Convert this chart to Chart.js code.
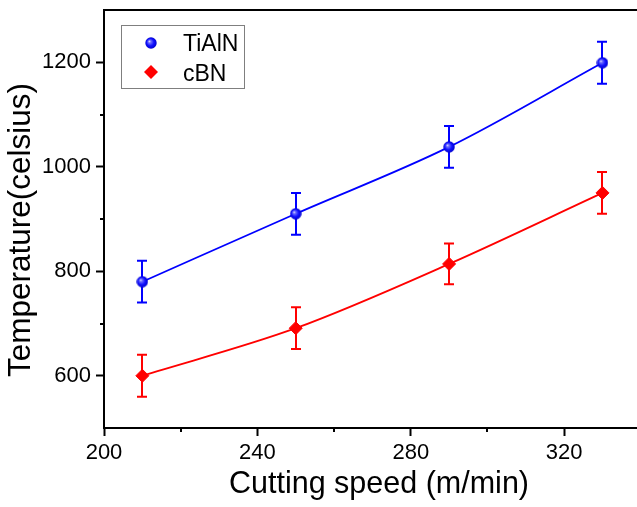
<!DOCTYPE html>
<html>
<head>
<meta charset="utf-8">
<script src="https://cdn.jsdelivr.net/npm/chart.js@4/dist/chart.umd.min.js"></script>
<style>
html,body{margin:0;padding:0;background:#fff;}
canvas{display:block;}
</style>
</head>
<body>
<canvas id="c" width="637" height="507"></canvas>
<script>
// ---- data ----
const speeds = [210, 250, 290, 330];
const tialnTemp = [780, 910, 1038, 1199];
const tialnErr = [40, 40, 40, 40];
const cbnTemp = [600, 691, 814, 950];
const cbnErr = [40, 40, 39, 40];
const seriesNames = ['TiAlN', 'cBN'];
const xTicks = [200, 240, 280, 320];
const xMinorTicks = [220, 260, 300];
const yTicks = [600, 800, 1000, 1200];
const yMinorTicks = [700, 900, 1100];
const xTitle = 'Cutting speed (m/min)';
const yTitle = 'Temperature(celsius)';

const FONT = "'Liberation Sans', Arial, sans-serif";

function makeSphere(d) {
  const cv = document.createElement('canvas');
  cv.width = d; cv.height = d;
  const g = cv.getContext('2d');
  const r = d / 2;
  const grad = g.createRadialGradient(r * 0.7, r * 0.7, 0, r, r, r);
  grad.addColorStop(0, '#f0f0ff');
  grad.addColorStop(0.22, '#7070ff');
  grad.addColorStop(0.6, '#1010ff');
  grad.addColorStop(1, '#0000c8');
  g.fillStyle = grad;
  g.beginPath(); g.arc(r, r, r - 0.3, 0, Math.PI * 2); g.fill();
  return cv;
}
const sphere = makeSphere(12);

const tialnPts = speeds.map((x, i) => ({x: x, y: tialnTemp[i]}));
const cbnPts = speeds.map((x, i) => ({x: x, y: cbnTemp[i]}));

const errorBars = {
  id: 'errorBars',
  beforeDatasetsDraw(chart) {
    const ctx = chart.ctx;
    const xs = chart.scales.x, ys = chart.scales.y;
    const sets = [[tialnTemp, tialnErr, '#0000ff'], [cbnTemp, cbnErr, '#ff0000']];
    ctx.save();
    sets.forEach(([vals, errs, col]) => {
      ctx.strokeStyle = col;
      ctx.lineWidth = 2;
      vals.forEach((v, i) => {
        const px = Math.round(xs.getPixelForValue(speeds[i]));
        const yt = ys.getPixelForValue(v + errs[i]);
        const yb = ys.getPixelForValue(v - errs[i]);
        ctx.beginPath();
        ctx.moveTo(px, yt); ctx.lineTo(px, yb);
        ctx.moveTo(px - 5, yt); ctx.lineTo(px + 5, yt);
        ctx.moveTo(px - 5, yb); ctx.lineTo(px + 5, yb);
        ctx.stroke();
      });
    });
    ctx.restore();
  }
};

const frame = {
  id: 'frame',
  afterDraw(chart) {
    const ctx = chart.ctx;
    const a = chart.chartArea;
    const xs = chart.scales.x, ys = chart.scales.y;
    ctx.save();
    ctx.strokeStyle = '#000';
    ctx.lineWidth = 2;
    // top frame line
    ctx.beginPath();
    ctx.moveTo(a.left - 1, a.top); ctx.lineTo(a.right, a.top);
    ctx.stroke();
    // minor ticks
    ctx.beginPath();
    xMinorTicks.forEach(v => {
      const px = Math.round(xs.getPixelForValue(v));
      ctx.moveTo(px, a.bottom); ctx.lineTo(px, a.bottom + 4);
    });
    yMinorTicks.forEach(v => {
      const py = Math.round(ys.getPixelForValue(v));
      ctx.moveTo(a.left, py); ctx.lineTo(a.left - 4, py);
    });
    ctx.stroke();
    ctx.fillStyle = '#000';
    // x axis title
    ctx.font = '30.5px ' + FONT;
    ctx.textAlign = 'center';
    ctx.textBaseline = 'middle';
    ctx.fillText(xTitle, 379, 485);
    // y axis title
    ctx.save();
    ctx.translate(21, 230);
    ctx.rotate(-Math.PI / 2);
    ctx.font = '31.5px ' + FONT;
    ctx.textAlign = 'center';
    ctx.textBaseline = 'middle';
    ctx.fillText(yTitle, 0, 0);
    ctx.restore();
    // legend
    ctx.lineWidth = 1;
    ctx.strokeStyle = '#7f7f7f';
    ctx.strokeRect(121.5, 25.5, 123, 63);
    ctx.drawImage(sphere, 151 - 6, 43 - 6);
    ctx.fillStyle = '#ff0000';
    ctx.beginPath();
    ctx.moveTo(151, 72 - 7); ctx.lineTo(151 + 7, 72); ctx.lineTo(151, 72 + 7); ctx.lineTo(151 - 7, 72);
    ctx.closePath(); ctx.fill();
    ctx.fillStyle = '#000';
    ctx.font = '23px ' + FONT;
    ctx.textAlign = 'left';
    ctx.textBaseline = 'alphabetic';
    ctx.fillText(seriesNames[0], 183, 51);
    ctx.fillText(seriesNames[1], 183, 81);
    ctx.restore();
  }
};

new Chart(document.getElementById('c'), {
  type: 'line',
  data: {
    datasets: [
      {
        label: seriesNames[0],
        data: tialnPts,
        borderColor: '#0000ff',
        borderWidth: 1.8,
        cubicInterpolationMode: 'monotone',
        pointStyle: sphere,
        pointRadius: 6,
        pointHoverRadius: 6,
        fill: false
      },
      {
        label: seriesNames[1],
        data: cbnPts,
        borderColor: '#ff0000',
        borderWidth: 1.8,
        cubicInterpolationMode: 'monotone',
        pointStyle: 'rectRot',
        pointRadius: 6.5,
        pointHoverRadius: 6.5,
        pointBackgroundColor: '#ff0000',
        pointBorderColor: '#ff0000',
        pointBorderWidth: 1,
        fill: false
      }
    ]
  },
  options: {
    responsive: false,
    animation: false,
    devicePixelRatio: 1,
    layout: {autoPadding: false, padding: {top: 10, right: 0, left: 0, bottom: 0}},
    plugins: {legend: {display: false}, tooltip: {enabled: false}},
    scales: {
      x: {
        type: 'linear',
        min: 200,
        max: 339,
        afterBuildTicks: ax => { ax.ticks = xTicks.map(v => ({value: v})); },
        afterFit: ax => { ax.height = 79; ax.paddingLeft = 0; ax.paddingRight = 0; },
        grid: {display: true, drawOnChartArea: false, drawTicks: true, tickLength: 8, tickWidth: 2, tickColor: '#000'},
        border: {display: true, color: '#000', width: 2},
        ticks: {color: '#000', font: {family: FONT, size: 22}, padding: 4, maxRotation: 0, autoSkip: false,
                callback: v => String(v)},
        title: {display: false}
      },
      y: {
        type: 'linear',
        min: 500,
        max: 1300,
        afterBuildTicks: ax => { ax.ticks = yTicks.map(v => ({value: v})); },
        afterFit: ax => { ax.width = 104; ax.paddingTop = 0; ax.paddingBottom = 0; },
        grid: {display: true, drawOnChartArea: false, drawTicks: true, tickLength: 8, tickWidth: 2, tickColor: '#000'},
        border: {display: true, color: '#000', width: 2},
        ticks: {color: '#000', font: {family: FONT, size: 22}, padding: 5, callback: v => String(v)},
        title: {display: false}
      }
    }
  },
  plugins: [errorBars, frame]
});
</script>
</body>
</html>
